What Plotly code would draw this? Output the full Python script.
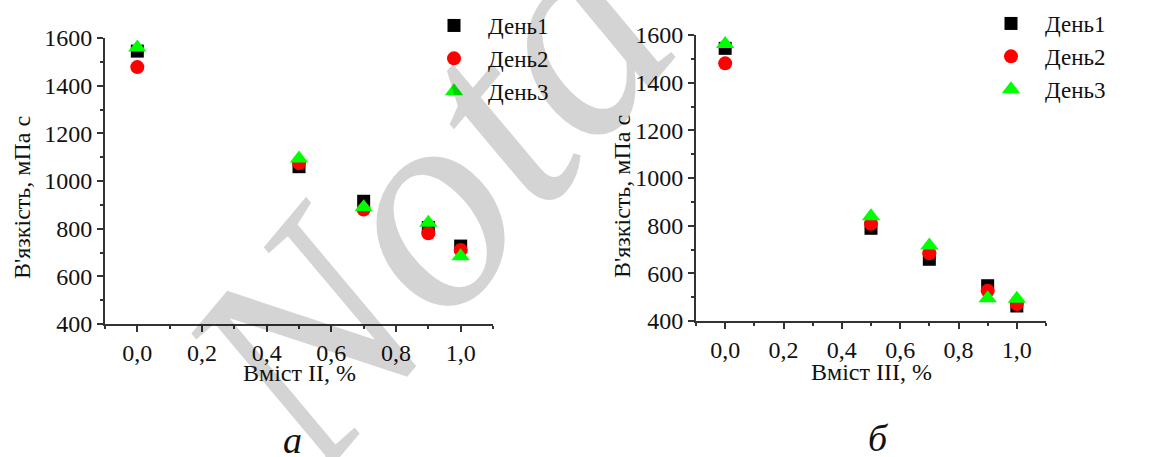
import plotly.graph_objects as go

# ---- data ----
x_content = [0.0, 0.5, 0.7, 0.9, 1.0]
ii_day1 = [1545, 1060, 915, 805, 727]
ii_day2 = [1478, 1075, 880, 781, 711]
ii_day3 = [1560, 1094, 890, 825, 684]
iii_day1 = [1544, 789, 659, 548, 463]
iii_day2 = [1481, 808, 684, 527, 471]
iii_day3 = [1562, 840, 717, 495, 493]
series_names = ["День1", "День2", "День3"]
x_ticks = [0.0, 0.2, 0.4, 0.6, 0.8, 1.0]
y_ticks = [400, 600, 800, 1000, 1200, 1400, 1600]

W, H = 1160, 457
def px(x):
    return x / W
def py(y):
    return 1 - y / H

FONT = "Liberation Serif, Times New Roman, serif"
AX = "#333333"

styles = [
    dict(symbol="square", color="#000000", size=13),
    dict(symbol="circle", color="#ff0000", size=14),
    dict(symbol="triangle-up", color="#00ff00", size=16),
]

fig = go.Figure()
for i, (name, ys) in enumerate(zip(series_names, [ii_day1, ii_day2, ii_day3])):
    fig.add_trace(go.Scatter(
        x=x_content, y=ys, mode="markers", name=name,
        marker=dict(symbol=styles[i]["symbol"], color=styles[i]["color"], size=styles[i]["size"], line=dict(width=0)),
        xaxis="x", yaxis="y", legend="legend", legendgroup="a" + str(i),
    ))
for i, (name, ys) in enumerate(zip(series_names, [iii_day1, iii_day2, iii_day3])):
    fig.add_trace(go.Scatter(
        x=x_content, y=ys, mode="markers", name=name,
        marker=dict(symbol=styles[i]["symbol"], color=styles[i]["color"], size=styles[i]["size"], line=dict(width=0)),
        xaxis="x2", yaxis="y2", legend="legend2", legendgroup="b" + str(i),
    ))

def xax(domain, anchor):
    return dict(
        domain=domain, anchor=anchor, range=[-0.1, 1.1],
        tickvals=x_ticks, tickformat=".1f",
        ticks="outside", ticklen=6, tickwidth=1.5, tickcolor=AX,
        showline=True, linecolor=AX, linewidth=2, mirror=False,
        showgrid=False, zeroline=False, automargin=False,
        minor=dict(dtick=0.1, tick0=0, ticks="outside", ticklen=3, tickwidth=1.5, tickcolor=AX, showgrid=False),
        tickfont=dict(family=FONT, size=24, color="#111111"),
    )

def yax(domain, anchor):
    return dict(
        domain=domain, anchor=anchor, range=[400, 1600],
        tickvals=y_ticks,
        ticks="outside", ticklen=6, tickwidth=1.5, tickcolor=AX,
        showline=True, linecolor=AX, linewidth=2, mirror=False,
        showgrid=False, zeroline=False, automargin=False,
        minor=dict(dtick=100, tick0=0, ticks="outside", ticklen=3, tickwidth=1.5, tickcolor=AX, showgrid=False),
        tickfont=dict(family=FONT, size=24, color="#111111"),
    )

leg = lambda x, y: dict(
    x=x, y=y, xanchor="left", yanchor="top",
    font=dict(family=FONT, size=23, color="#111111"),
    bgcolor="rgba(0,0,0,0)", borderwidth=0,
    tracegroupgap=0, itemwidth=58, itemsizing="trace",
)

def ann(text, x, y, size, angle=0, style="normal", color="#111111"):
    return dict(text=text, x=px(x), y=py(y), xref="paper", yref="paper",
                xanchor="center", yanchor="middle", showarrow=False, textangle=angle,
                font=dict(family=FONT, size=size, color=color, style=style))

annotations = [
    ann("Nota", 425, 200, 295, angle=-50, style="italic", color="rgba(0,0,0,0.17)"),
    ann("В'язкість, мПа с", 22, 198, 24, angle=-90),
    ann("В'язкість, мПа с", 622, 197, 24, angle=-90),
    ann("Вміст II, %", 299, 373, 24),
    ann("Вміст III, %", 871, 372, 24),
    ann("а", 292, 440, 38, style="italic"),
    ann("б", 878, 438, 38, style="italic"),
]

fig.update_layout(
    width=W, height=H,
    margin=dict(l=0, r=0, t=0, b=0, autoexpand=False),
    paper_bgcolor="white", plot_bgcolor="white",
    separators=", ",
    showlegend=True,
    xaxis=xax([px(105), px(493)], "y"),
    yaxis=yax([py(324), py(38)], "x"),
    xaxis2=xax([px(696), px(1046)], "y2"),
    yaxis2=yax([py(321), py(35)], "x2"),
    legend=leg(px(420), py(4)),
    legend2=leg(px(977), py(2)),
    annotations=annotations,
)

fig.write_html("out.html")
